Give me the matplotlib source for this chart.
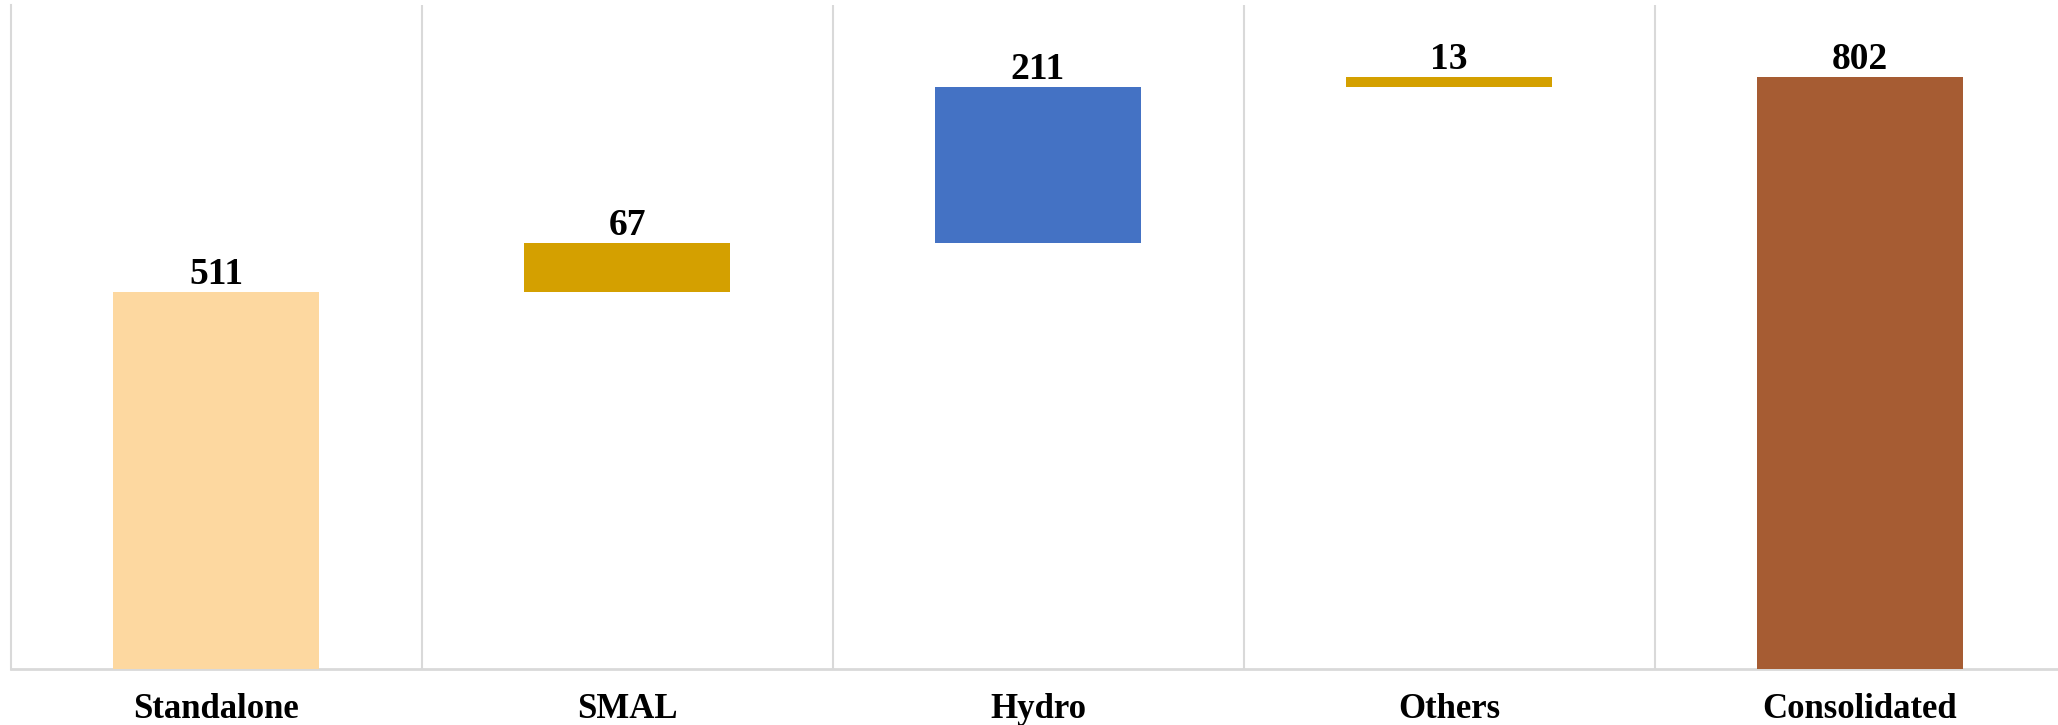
import numpy as np
import matplotlib.pyplot as plt

# waterfall data
categories = ["Standalone", "SMAL", "Hydro", "Others", "Consolidated"]
values = [511, 67, 211, 13, 802]
is_total = [True, False, False, False, True]
colors = ["#FDD8A0", "#D4A000", "#4472C4", "#D4A000", "#A65C33"]

W, H = 2058, 725
fig = plt.figure(figsize=(W / 100, H / 100), dpi=100)
ax = fig.add_axes([10.5 / W, 56 / H, (W - 10.5) / W, 664 / H])

# bottoms: totals sit on zero, steps sit on running total
bottoms = []
running = 0
for v, tot in zip(values, is_total):
    if tot:
        bottoms.append(0)
        running = v
    else:
        bottoms.append(running)
        running += v

x = np.arange(len(categories))
ax.bar(x, values, bottom=bottoms, width=0.5, color=colors, zorder=3)

for xi, v, b in zip(x, values, bottoms):
    ax.annotate(str(v), (xi, b + v), xytext=(0, 0), textcoords="offset points",
                ha="center", va="bottom", fontsize=27, fontweight="bold",
                family="Liberation Serif")

ax.set_xlim(-0.5, (W - 10.5) / 411 - 0.5)
ax.set_ylim(0, 900)
ax.set_yticks([])
ax.set_xticks(x)
ax.set_xticklabels(categories, fontsize=25, fontweight="bold", family="Liberation Serif")
ax.tick_params(axis="x", length=0, pad=17)

# category separators
for b in np.arange(0.5, len(categories) - 1, 1.0):
    ax.axvline(b, color="#d9d9d9", lw=1.5, zorder=1)

for s in ["top", "right"]:
    ax.spines[s].set_visible(False)
ax.spines["left"].set_color("#d9d9d9")
ax.spines["left"].set_linewidth(1.5)
ax.spines["bottom"].set_color("#d9d9d9")
ax.spines["bottom"].set_linewidth(2)

fig.savefig("out.png", dpi=100)
